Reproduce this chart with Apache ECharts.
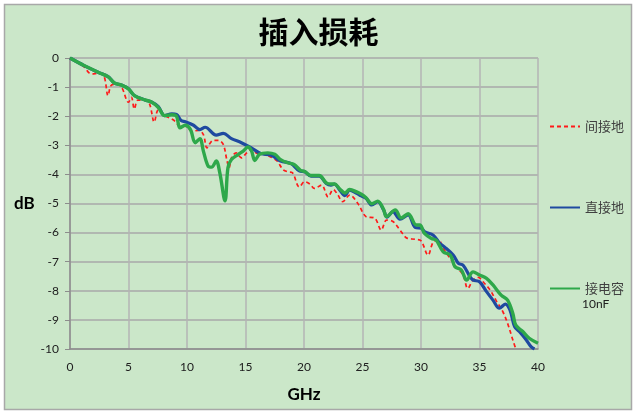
<!DOCTYPE html>
<html>
<head>
<meta charset="utf-8">
<script src="https://cdn.jsdelivr.net/npm/echarts@6/dist/echarts.min.js"></script>
<style>
html,body{margin:0;padding:0;background:#ffffff;}
#c{width:637px;height:415px;}
</style>
</head>
<body>
<div id="c"></div>
<script>
// Data: [GHz, dB]
var seriesNames = ['间接地', '直接地', '接电容'];
var xTicks = [0, 5, 10, 15, 20, 25, 30, 35, 40];
var yTicks = [0, -1, -2, -3, -4, -5, -6, -7, -8, -9, -10];

var indirectGround = [
[0,0],[1.2,-0.3],[1.6,-0.5],[1.9,-0.55],[2.4,-0.52],[2.9,-0.62],[3.25,-1.29],[3.5,-0.95],[3.9,-0.9],[4.4,-1.0],
[5.0,-1.52],[5.25,-1.35],[5.5,-1.75],[5.8,-1.45],[6.4,-1.45],[6.8,-1.58],[7.2,-2.2],[7.55,-1.78],[8.1,-1.98],[8.85,-2.13],
[9.4,-2.33],[9.86,-2.34],[10.4,-2.51],[11.0,-2.49],[11.4,-2.63],[11.7,-3.09],[12.0,-2.91],[12.25,-2.83],[12.7,-2.83],[13.1,-2.97],
[13.4,-3.49],[13.6,-3.77],[13.8,-3.43],[14.2,-3.26],[14.65,-3.43],[15.1,-3.26],[15.5,-3.14],[15.9,-3.26],[16.6,-3.31],[17.2,-3.41],
[17.7,-3.54],[18.2,-3.83],[18.6,-3.91],[19.0,-3.94],[19.6,-4.43],[20.06,-4.25],[20.5,-4.33],[20.9,-4.48],[21.5,-4.37],[22.06,-4.77],
[22.5,-4.52],[22.9,-4.71],[23.3,-4.94],[23.9,-4.71],[24.6,-5.0],[25.3,-5.45],[26.06,-5.51],[26.6,-5.91],[27.06,-5.57],[27.6,-5.62],
[28.2,-5.91],[28.8,-6.19],[29.5,-6.23],[30.0,-6.28],[30.6,-6.77],[31.05,-6.32],[31.5,-6.26],[31.9,-6.54],[32.5,-6.89],[33.0,-7.17],
[33.6,-7.46],[34.0,-7.92],[34.45,-7.63],[34.9,-7.54],[35.3,-7.69],[35.9,-7.97],[36.4,-8.32],[37.0,-8.72],[37.4,-9.12],[37.85,-9.69],[38.1,-10.0]
];

var directGround = [
[0,0],[1.2,-0.26],[2.4,-0.49],[3.25,-0.64],[3.8,-0.86],[4.4,-0.93],[5.0,-1.06],[5.5,-1.29],[6.4,-1.44],[7.0,-1.52],
[7.55,-1.67],[8.1,-1.98],[8.7,-1.92],[9.1,-1.94],[9.5,-2.15],[9.86,-2.19],[10.56,-2.31],[11.1,-2.46],[11.55,-2.38],[12.5,-2.65],
[13.1,-2.59],[13.8,-2.77],[14.65,-2.91],[15.5,-3.09],[16.3,-3.28],[17.2,-3.34],[18.0,-3.54],[18.9,-3.63],[19.6,-3.88],[20.06,-3.91],
[20.6,-4.06],[21.3,-4.06],[21.9,-4.31],[22.3,-4.37],[22.6,-4.33],[23.06,-4.54],[23.5,-4.73],[23.9,-4.54],[24.5,-4.65],[24.9,-4.74],
[25.3,-4.82],[25.8,-5.05],[26.3,-4.94],[26.8,-5.22],[27.1,-5.47],[27.6,-5.28],[28.2,-5.54],[28.9,-5.39],[29.5,-5.82],[30.06,-5.85],
[30.3,-5.97],[31.05,-6.09],[31.6,-6.37],[32.0,-6.49],[32.75,-6.77],[33.2,-7.06],[33.6,-7.12],[34.2,-7.52],[34.45,-7.63],[35.0,-7.69],
[35.6,-8.03],[36.15,-8.32],[36.7,-8.6],[37.2,-8.46],[37.6,-8.66],[38.0,-9.23],[38.4,-9.4],[39.0,-9.69],[39.4,-9.92],[39.7,-10.0]
];

var capacitor10nF = [
[0,0],[1.2,-0.26],[2.4,-0.49],[3.25,-0.64],[3.8,-0.86],[4.4,-0.93],[5.0,-1.06],[5.5,-1.29],[6.4,-1.44],[7.0,-1.52],
[7.55,-1.70],[8.1,-1.98],[8.7,-1.95],[9.1,-2.0],[9.4,-2.4],[9.86,-2.31],[10.3,-2.46],[10.7,-2.91],[11.1,-2.77],[11.4,-3.2],
[11.8,-3.71],[12.1,-3.75],[12.5,-3.54],[12.8,-3.94],[13.25,-4.91],[13.5,-3.77],[13.8,-3.49],[14.4,-3.31],[14.8,-3.2],[15.2,-3.06],
[15.5,-3.18],[15.8,-3.52],[16.2,-3.31],[16.9,-3.26],[17.5,-3.31],[18.0,-3.49],[18.6,-3.6],[19.15,-3.66],[19.7,-3.86],[20.06,-3.9],
[20.6,-4.04],[21.3,-4.04],[21.9,-4.29],[22.3,-4.33],[22.6,-4.33],[23.06,-4.5],[23.5,-4.64],[23.9,-4.52],[24.5,-4.6],[24.9,-4.68],
[25.3,-4.8],[25.8,-5.01],[26.3,-4.92],[26.8,-5.2],[27.05,-5.45],[27.8,-5.22],[28.3,-5.5],[28.9,-5.35],[29.6,-5.74],[29.9,-5.74],
[30.3,-6.03],[30.9,-6.2],[31.3,-6.26],[31.9,-6.66],[32.5,-6.77],[32.9,-7.17],[33.45,-7.29],[33.9,-7.63],[34.45,-7.35],[35.0,-7.46],
[35.6,-7.57],[36.15,-7.8],[36.85,-8.15],[37.4,-8.32],[37.85,-8.78],[38.1,-9.18],[38.7,-9.4],[39.25,-9.63],[40,-9.8]
];

var chart = echarts.init(document.getElementById('c'), null, {renderer: 'canvas'});
var cjk = '"Noto Sans CJK SC", sans-serif';
var lat = 'Lato, "Open Sans", sans-serif';
var legendText = {fontSize: 13, color: '#404040', fontFamily: cjk};
function legendAt(name, top) {
  return {
    data: [name], left: 544, top: top, orient: 'vertical',
    itemWidth: 30, itemHeight: 12, itemGap: 4,
    itemStyle: {opacity: 0, borderWidth: 0},
    textStyle: legendText, selectedMode: false
  };
}
var option = {
  backgroundColor: '#ffffff',
  animation: false,
  title: {
    text: '插入损耗', left: 'center', top: 12,
    textStyle: {fontSize: 30, fontWeight: 'bold', color: '#000', fontFamily: cjk}
  },
  graphic: [
    {type: 'rect', z: -10, shape: {x: 4.5, y: 4.5, width: 627, height: 405},
     style: {fill: '#cbe7c9', stroke: '#a8a8a8', lineWidth: 1.5}},
    {type: 'text', x: 582, y: 298, z: 10,
     style: {text: '10nF', fontSize: 12, fill: '#202020', fontFamily: lat, textVerticalAlign: 'top', textAlign: 'left'}}
  ],
  legend: [legendAt('间接地', 115), legendAt('直接地', 196), legendAt('接电容', 277)],
  grid: {left: 70, right: 99, top: 58, bottom: 66, containLabel: false},
  xAxis: {
    type: 'value', min: xTicks[0], max: xTicks[xTicks.length - 1], interval: 5,
    name: 'GHz', nameLocation: 'middle', nameGap: 37,
    nameTextStyle: {fontSize: 17, fontWeight: 'bold', color: '#000', fontFamily: lat},
    axisLine: {show: true, onZero: false, lineStyle: {color: '#8c8c8c', width: 1.5}},
    axisTick: {show: false},
    axisLabel: {fontSize: 12, color: '#202020', margin: 12, fontFamily: lat},
    splitLine: {show: true, lineStyle: {color: '#b4b4b4', width: 1.5}}
  },
  yAxis: {
    type: 'value', min: yTicks[yTicks.length - 1], max: yTicks[0], interval: 1,
    name: 'dB', nameLocation: 'middle', nameGap: 35, nameRotate: 0,
    nameTextStyle: {fontSize: 17, fontWeight: 'bold', color: '#000', fontFamily: lat, padding: [10, 0, 0, 0]},
    axisLine: {show: true, lineStyle: {color: '#8c8c8c', width: 1.5}},
    axisTick: {show: true, length: 5, lineStyle: {color: '#8c8c8c'}},
    axisLabel: {fontSize: 12, color: '#202020', margin: 11, fontFamily: lat},
    splitLine: {show: true, lineStyle: {color: '#a8a8a8', width: 1.5}}
  },
  series: [
    {name: seriesNames[0], type: 'line', data: indirectGround, smooth: 0.35, symbol: 'none', z: 2,
     lineStyle: {color: '#ff1a1a', width: 1.7, type: [4, 3]}, itemStyle: {color: '#ff1a1a'}},
    {name: seriesNames[1], type: 'line', data: directGround, smooth: 0.35, symbol: 'none', z: 3,
     lineStyle: {color: '#1f4aa0', width: 3.2}, itemStyle: {color: '#1f4aa0'}},
    {name: seriesNames[2], type: 'line', data: capacitor10nF, smooth: 0.35, symbol: 'none', z: 4,
     lineStyle: {color: '#2ea84a', width: 3.4}, itemStyle: {color: '#2ea84a'}}
  ]
};
chart.setOption(option);
</script>
</body>
</html>
